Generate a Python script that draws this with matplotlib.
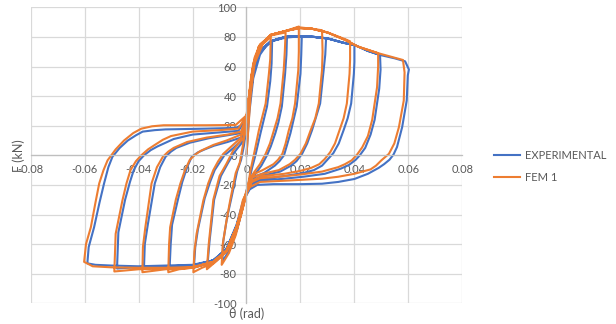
import matplotlib
matplotlib.use("Agg")
import matplotlib.pyplot as plt

plt.rcParams['font.family'] = ['Lato', 'DejaVu Sans']
plt.rcParams['axes.unicode_minus'] = False

x_ticks = [-0.08, -0.06, -0.04, -0.02, 0, 0.02, 0.04, 0.06, 0.08]
x_tick_labels = ["-0.08", "-0.06", "-0.04", "-0.02", "0", "0.02", "0.04", "0.06", "0.08"]
y_ticks = [-100, -80, -60, -40, -20, 0, 20, 40, 60, 80, 100]
y_tick_labels = ["-100", "-80", "-60", "-40", "-20", "0", "20", "40", "60", "80", "100"]
series_names = ["EXPERIMENTAL", "FEM 1"]
x_title = "θ (rad)"
y_title = "F (kN)"

# ---- EXPERIMENTAL: (theta [rad], force [kN]) points per cycle ----
exp_cycle_1 = [
    (0.0, 0.0), (0.001, 28), (0.0025, 52), (0.005, 68), (0.0075, 74.5), (0.0095, 77),
    (0.0093, 62), (0.0088, 50), (0.0076, 33), (0.0052, 15), (0.0033, 0), (0.002, -9), (0.001, -17),
    (0.0, -24), (-0.0015, -36), (-0.0035, -50), (-0.006, -63), (-0.009, -72),
    (-0.0086, -58), (-0.0072, -42), (-0.0055, -28), (-0.0035, -11), (-0.002, -3), (-0.001, 6), (0.0, 19)]
exp_cycle_2 = [
    (0.001, 35), (0.0025, 55), (0.005, 70), (0.009, 77), (0.012, 79), (0.015, 80),
    (0.0148, 68), (0.0143, 55), (0.0131, 33), (0.0118, 22), (0.0107, 15), (0.009, 6), (0.0076, 0), (0.0055, -7), (0.0035, -12), (0.0015, -17),
    (0.0, -25), (-0.0015, -36), (-0.0035, -50), (-0.007, -64), (-0.011, -71), (-0.0145, -75),
    (-0.0137, -58), (-0.012, -30), (-0.0095, -14), (-0.0068, -5), (-0.0045, 2), (-0.0028, 6), (-0.001, 10), (0.0, 20)]
exp_cycle_3 = [
    (0.001, 35), (0.0025, 55), (0.005, 70), (0.009, 77), (0.0145, 79.5), (0.0205, 80.5),
    (0.0203, 68), (0.0200, 55), (0.0186, 33), (0.0163, 15), (0.0150, 7), (0.0139, 0), (0.0122, -4), (0.0105, -7), (0.0065, -12), (0.0035, -14), (0.0012, -19),
    (-0.001, -31), (-0.0025, -43), (-0.0045, -55), (-0.0075, -65), (-0.012, -72), (-0.016, -74), (-0.0195, -76),
    (-0.019, -62), (-0.018, -50), (-0.0155, -29), (-0.0135, -18), (-0.0118, -10), (-0.0082, 0), (-0.0048, 5), (-0.002, 10), (0.0, 20)]
exp_cycle_4 = [
    (0.001, 37), (0.0025, 56), (0.005, 70), (0.009, 77), (0.0145, 80), (0.020, 80.5), (0.025, 80), (0.0295, 79),
    (0.0292, 68), (0.0286, 57.6), (0.0273, 35), (0.0243, 17), (0.0225, 8), (0.0206, 1), (0.0185, -4), (0.0165, -7), (0.0125, -11), (0.0065, -13.5), (0.002, -17),
    (0.0, -25), (-0.0015, -35), (-0.0037, -48), (-0.0074, -63.5), (-0.0123, -71), (-0.020, -74.5), (-0.025, -75), (-0.0285, -76),
    (-0.0281, -60), (-0.0276, -47), (-0.0253, -29), (-0.0238, -18), (-0.0220, -8), (-0.0203, -1), (-0.018, 2), (-0.0155, 4), (-0.012, 6.5), (-0.007, 9), (-0.002, 12), (0.0, 22)]
exp_cycle_5 = [
    (0.001, 37), (0.0025, 56), (0.005, 70), (0.009, 77), (0.0145, 80), (0.020, 80.5), (0.025, 80), (0.030, 79), (0.036, 76), (0.040, 74.6),
    (0.0400, 63), (0.0398, 55), (0.0388, 35), (0.0375, 25), (0.0360, 17), (0.0342, 8), (0.0322, 1.5), (0.030, -3), (0.028, -7), (0.025, -10), (0.021, -12), (0.014, -14), (0.006, -16), (0.002, -18),
    (0.0, -25), (-0.0015, -35), (-0.0037, -48), (-0.0074, -63.5), (-0.0123, -71), (-0.020, -74.5), (-0.030, -75), (-0.038, -76),
    (-0.0377, -60), (-0.0366, -47), (-0.0340, -19), (-0.0320, -8), (-0.0300, -1), (-0.028, 2.5), (-0.026, 5), (-0.021, 8.5), (-0.014, 11.5), (-0.007, 13.5), (-0.002, 15), (0.0, 24)]
exp_cycle_6 = [
    (0.001, 38), (0.0025, 56), (0.005, 70), (0.009, 77), (0.0145, 80), (0.020, 80.5), (0.025, 80), (0.030, 79), (0.036, 76), (0.040, 74.6), (0.045, 70.5), (0.0495, 67.8),
    (0.0497, 58), (0.0492, 45), (0.0475, 24), (0.0460, 14), (0.0440, 5), (0.0420, 0), (0.0405, -3), (0.038, -6.5), (0.035, -9), (0.029, -12.5), (0.021, -14.5), (0.013, -16), (0.005, -17), (0.002, -19.5),
    (0.0, -26), (-0.0015, -35), (-0.0037, -48), (-0.0074, -63.5), (-0.0123, -71), (-0.020, -74.5), (-0.030, -75), (-0.040, -75.5), (-0.048, -76.5),
    (-0.0475, -52), (-0.0450, -30), (-0.0432, -18), (-0.0418, -10), (-0.040, -4), (-0.038, 0), (-0.0355, 3.5), (-0.033, 6), (-0.027, 11), (-0.020, 14), (-0.010, 15.5), (-0.003, 16.5), (0.0, 25)]
exp_cycle_7 = [
    (0.001, 38), (0.0025, 56), (0.005, 70), (0.009, 77), (0.0145, 80), (0.020, 80.5), (0.025, 80), (0.030, 79), (0.036, 76), (0.040, 74.6), (0.045, 70.5), (0.0495, 67.8), (0.055, 65.5), (0.0588, 63.5), (0.0602, 58), (0.0598, 54),
    (0.0594, 37), (0.0577, 19), (0.0558, 5.6), (0.0545, 0.5), (0.053, -3), (0.051, -6), (0.049, -8.5), (0.045, -12.5), (0.040, -16), (0.034, -18), (0.028, -19.2), (0.020, -19.5), (0.010, -19.5), (0.004, -20), (0.0012, -23),
    (-0.0013, -31), (-0.0037, -47), (-0.0074, -63), (-0.0123, -71), (-0.020, -74), (-0.030, -74.5), (-0.040, -75), (-0.050, -74.5), (-0.056, -74), (-0.059, -73),
    (-0.0585, -62), (-0.0565, -48.6), (-0.0545, -32), (-0.0528, -19), (-0.0512, -8), (-0.0497, -1), (-0.047, 5), (-0.0440, 10), (-0.041, 13.5), (-0.0385, 16), (-0.034, 17), (-0.030, 17.5), (-0.015, 18), (-0.004, 18.5), (0.0, 22)]

# ---- FEM 1: (theta [rad], force [kN]) points per cycle ----
fem_cycle_1 = [
    (0.0, 0.0), (0.0015, 40), (0.003, 62), (0.006, 75), (0.009, 80),
    (0.0088, 65), (0.0083, 55), (0.0071, 35), (0.0046, 17), (0.0028, 1), (0.0015, -10), (0.0008, -18),
    (0.0, -26), (-0.002, -40), (-0.004, -54), (-0.0065, -66), (-0.0092, -74),
    (-0.0088, -60), (-0.0075, -45), (-0.006, -30), (-0.004, -12), (-0.0025, -5), (-0.0012, 8), (0.0, 22)]
fem_cycle_2 = [
    (0.0015, 48), (0.003, 66), (0.005, 75), (0.009, 81), (0.0145, 83),
    (0.0142, 70), (0.0138, 57.6), (0.0126, 35), (0.0115, 25), (0.0102, 17), (0.0087, 8), (0.0071, 1), (0.005, -6), (0.003, -11), (0.0012, -16),
    (0.0, -26), (-0.002, -40), (-0.0037, -50), (-0.0074, -65), (-0.0115, -72), (-0.0147, -77),
    (-0.0140, -60), (-0.0123, -30), (-0.0100, -14), (-0.0074, -5.6), (-0.005, 3), (-0.003, 8), (-0.001, 12), (0.0, 24)]
fem_cycle_3 = [
    (0.0015, 50), (0.0025, 62), (0.0046, 73), (0.009, 81), (0.0145, 84), (0.0194, 87),
    (0.0194, 70), (0.0192, 57.6), (0.018, 35), (0.0170, 25), (0.0157, 17), (0.0145, 8), (0.0133, 1), (0.0117, -3), (0.010, -6), (0.006, -10), (0.003, -12.5), (0.001, -18),
    (-0.001, -30), (-0.0025, -42), (-0.0045, -55), (-0.0074, -65), (-0.0123, -73), (-0.0165, -76), (-0.0197, -79),
    (-0.0193, -65), (-0.0185, -53), (-0.016, -30.5), (-0.0142, -19), (-0.0123, -10), (-0.0105, -4), (-0.0086, 1), (-0.005, 7), (-0.002, 12), (0.0, 25)]
fem_cycle_4 = [
    (0.0022, 57.6), (0.0046, 73.4), (0.009, 81.4), (0.0145, 84), (0.020, 86), (0.0243, 85.5), (0.028, 84.5),
    (0.0282, 70), (0.0280, 57.6), (0.0268, 35), (0.0255, 25), (0.0238, 17), (0.0220, 8), (0.0200, 1), (0.018, -3), (0.016, -6), (0.012, -10), (0.006, -12.5), (0.002, -15),
    (0.0, -25), (-0.0015, -35), (-0.0037, -48.6), (-0.0074, -64.4), (-0.0123, -72), (-0.020, -76), (-0.025, -77), (-0.029, -79),
    (-0.0287, -60), (-0.0283, -48.6), (-0.0262, -30), (-0.0245, -19), (-0.0228, -10), (-0.021, -3), (-0.019, 0.5), (-0.017, 3), (-0.0123, 7), (-0.0074, 10), (-0.002, 14), (0.0, 25)]
fem_cycle_5 = [
    (0.0022, 57.6), (0.0046, 73.4), (0.009, 81.4), (0.0145, 84), (0.0194, 86.5), (0.0243, 85.5), (0.030, 83), (0.0365, 78.5), (0.0384, 77),
    (0.0384, 65), (0.0382, 55), (0.0372, 35), (0.0360, 25), (0.0345, 17), (0.0328, 8), (0.0310, 2), (0.029, -2.5), (0.027, -6), (0.024, -8.5), (0.020, -10.5), (0.014, -12.5), (0.006, -14), (0.002, -17),
    (0.0, -25), (-0.0015, -35), (-0.0037, -48.6), (-0.0074, -64.4), (-0.0123, -72), (-0.020, -76), (-0.030, -77), (-0.0386, -79),
    (-0.0384, -62), (-0.0375, -48.6), (-0.0352, -19), (-0.0332, -8), (-0.031, -1), (-0.029, 2.5), (-0.027, 5), (-0.022, 9), (-0.0147, 12), (-0.007, 14), (-0.002, 16), (0.0, 26)]
fem_cycle_6 = [
    (0.0022, 57.6), (0.0046, 73.4), (0.009, 81.4), (0.0145, 84), (0.0194, 86), (0.0243, 85.5), (0.030, 83), (0.0365, 78), (0.0414, 73.4), (0.0488, 69),
    (0.0488, 60), (0.0484, 46), (0.0466, 24), (0.0450, 13), (0.0429, 5.4), (0.041, 0.5), (0.039, -3.4), (0.0365, -6), (0.034, -8), (0.028, -11), (0.020, -13), (0.012, -14.5), (0.005, -15.5), (0.002, -18),
    (0.0, -25), (-0.0015, -35), (-0.0037, -48.6), (-0.0074, -64.4), (-0.0123, -72), (-0.020, -76), (-0.030, -76.5), (-0.040, -77), (-0.049, -78.5),
    (-0.0485, -53), (-0.046, -30.5), (-0.0445, -19), (-0.043, -10), (-0.041, -4), (-0.039, 0), (-0.0365, 4), (-0.034, 7), (-0.031, 10.5), (-0.028, 13), (-0.020, 16), (-0.010, 17), (-0.003, 18), (0.0, 27)]
fem_cycle_7 = [
    (0.0022, 57.6), (0.0046, 73.4), (0.009, 81.4), (0.0145, 84), (0.0194, 86), (0.0243, 85.5), (0.030, 83), (0.0365, 78), (0.0414, 73.4), (0.0488, 69), (0.058, 64.4),
    (0.0586, 56), (0.0583, 37), (0.0565, 19), (0.0548, 8), (0.0528, 1), (0.0500, -3.4), (0.048, -7), (0.046, -9.5), (0.040, -12.5), (0.034, -14.5), (0.028, -15.8), (0.016, -17), (0.005, -18), (0.0012, -21.5),
    (-0.0013, -30), (-0.0037, -48.6), (-0.0074, -64.4), (-0.0123, -72), (-0.020, -75.5), (-0.030, -76), (-0.040, -76), (-0.050, -75.7), (-0.057, -75), (-0.0602, -72),
    (-0.0595, -60), (-0.0577, -48.6), (-0.0560, -32), (-0.0546, -19), (-0.0530, -10), (-0.0515, -3.4), (-0.0485, 4), (-0.0454, 10), (-0.042, 15), (-0.039, 18), (-0.035, 19.6), (-0.0307, 20.3), (-0.015, 20.3), (-0.004, 20.5), (0.0, 27)]

exp_cycles = [exp_cycle_1, exp_cycle_2, exp_cycle_3, exp_cycle_4, exp_cycle_5, exp_cycle_6, exp_cycle_7]
fem_cycles = [fem_cycle_1, fem_cycle_2, fem_cycle_3, fem_cycle_4, fem_cycle_5, fem_cycle_6, fem_cycle_7]


def unpack(cycles):
    th, f = [], []
    for c in cycles:
        for a, b in c:
            th.append(a)
            f.append(b)
    return th, f


exp_theta, exp_force = unpack(exp_cycles)
fem_theta, fem_force = unpack(fem_cycles)

W, H = 616, 324
fig = plt.figure(figsize=(W / 100, H / 100), dpi=100)
ax = fig.add_axes([30.7 / W, (H - 303.3) / H, 431.6 / W, 296 / H])

ax.plot(exp_theta, exp_force, color="#4472C4", lw=1.5, label=series_names[0], solid_joinstyle="round")
ax.plot(fem_theta, fem_force, color="#ED7D31", lw=1.5, label=series_names[1], solid_joinstyle="round")

ax.set_xlim(-0.08, 0.08)
ax.set_ylim(-100, 100)
ax.set_xticks(x_ticks)
ax.set_xticklabels(x_tick_labels)
ax.set_yticks(y_ticks)
ax.set_yticklabels(y_tick_labels)
ax.grid(True, color="#d9d9d9", lw=0.9)
ax.set_axisbelow(True)
for s in ["top", "right"]:
    ax.spines[s].set_visible(False)
ax.spines["left"].set_position(("data", 0))
ax.spines["bottom"].set_position(("data", 0))
for s in ["left", "bottom"]:
    ax.spines[s].set_color("#bfbfbf")
    ax.spines[s].set_linewidth(0.9)
ax.tick_params(axis="both", length=0, labelsize=8, colors="#595959")
ax.tick_params(axis="y", pad=7)
ax.tick_params(axis="x", pad=6)

ax.set_xlabel(x_title, fontsize=9, color="#595959")
ax.xaxis.set_label_coords(0.5, -0.015)
ax.set_ylabel(y_title, fontsize=9, color="#595959")
ax.yaxis.set_label_coords(-0.014, 0.5)

ax.legend(loc="center left", bbox_to_anchor=(490 / W, 1 - 166.5 / H), bbox_transform=fig.transFigure,
          frameon=False, fontsize=8, handlelength=2.3, handletextpad=0.45, labelspacing=1.0,
          borderaxespad=0, labelcolor="#595959")

fig.savefig("out.png", dpi=100)
